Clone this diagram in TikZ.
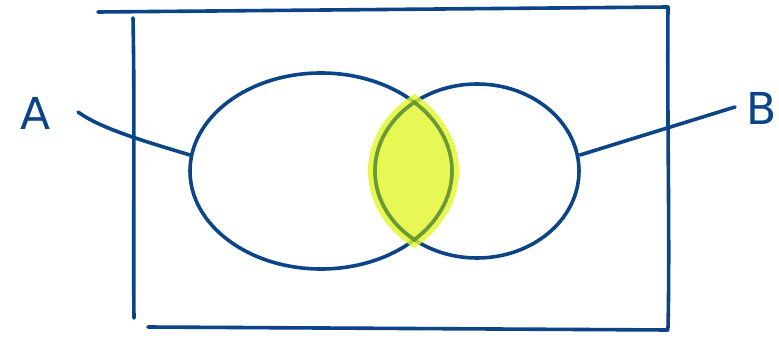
\documentclass[tikz,border=0pt]{standalone}
\usepackage{fontspec}
\setmainfont{DejaVu Sans}
\begin{document}
\begin{tikzpicture}[x=1pt,y=-1pt,
  ink/.style={draw=inkblue,line width=3.6pt,line cap=round,line join=round},
  lbl/.style={text=inkblue,font=\fontsize{44}{44}\selectfont,inner sep=0pt}]
\definecolor{inkblue}{HTML}{0B4587}
\definecolor{hl}{HTML}{E2F72A}
\definecolor{hlline}{HTML}{6A9A36}
\useasboundingbox (0,0) rectangle (779,339);
\fill[white] (0,0) rectangle (779,339);
% frame
\draw[ink] (98,12) -- (668,7);
\draw[ink] (668,7) .. controls (667,120) and (670,240) .. (668,328);
\draw[ink] (148,327) -- (668,330);
\draw[ink] (133,18) .. controls (135,120) and (133,230) .. (134,318);
% sets
\draw[ink] (321,171) ellipse [x radius=131, y radius=98];
\draw[ink] (477,171) ellipse [x radius=102, y radius=87];
% labels
\node[lbl] (A) at (36,113) {A};
\node[lbl] (B) at (762,108) {B};
\coordinate (Aend) at (190,155);
\coordinate (Bend) at (580,155);
\coordinate (Astart) at (78,112);
\coordinate (Bstart) at (735,107);
\draw[ink] (Astart) .. controls (100,128) and (140,140) .. (Aend);
\draw[ink] (Bstart) -- (Bend);
% highlight of intersection
\begin{scope}[transparency group,opacity=0.8]
\clip (321,171) ellipse [x radius=138, y radius=105];
\fill[hl] (477,171) ellipse [x radius=109, y radius=94];
\end{scope}
\begin{scope}
\clip (321,171) ellipse [x radius=133, y radius=100];
\clip (477,171) ellipse [x radius=104, y radius=89];
\draw[draw=hlline,line width=3.6pt] (321,171) ellipse [x radius=131, y radius=98];
\draw[draw=hlline,line width=3.6pt] (477,171) ellipse [x radius=102, y radius=87];
\end{scope}
\end{tikzpicture}
\end{document}
